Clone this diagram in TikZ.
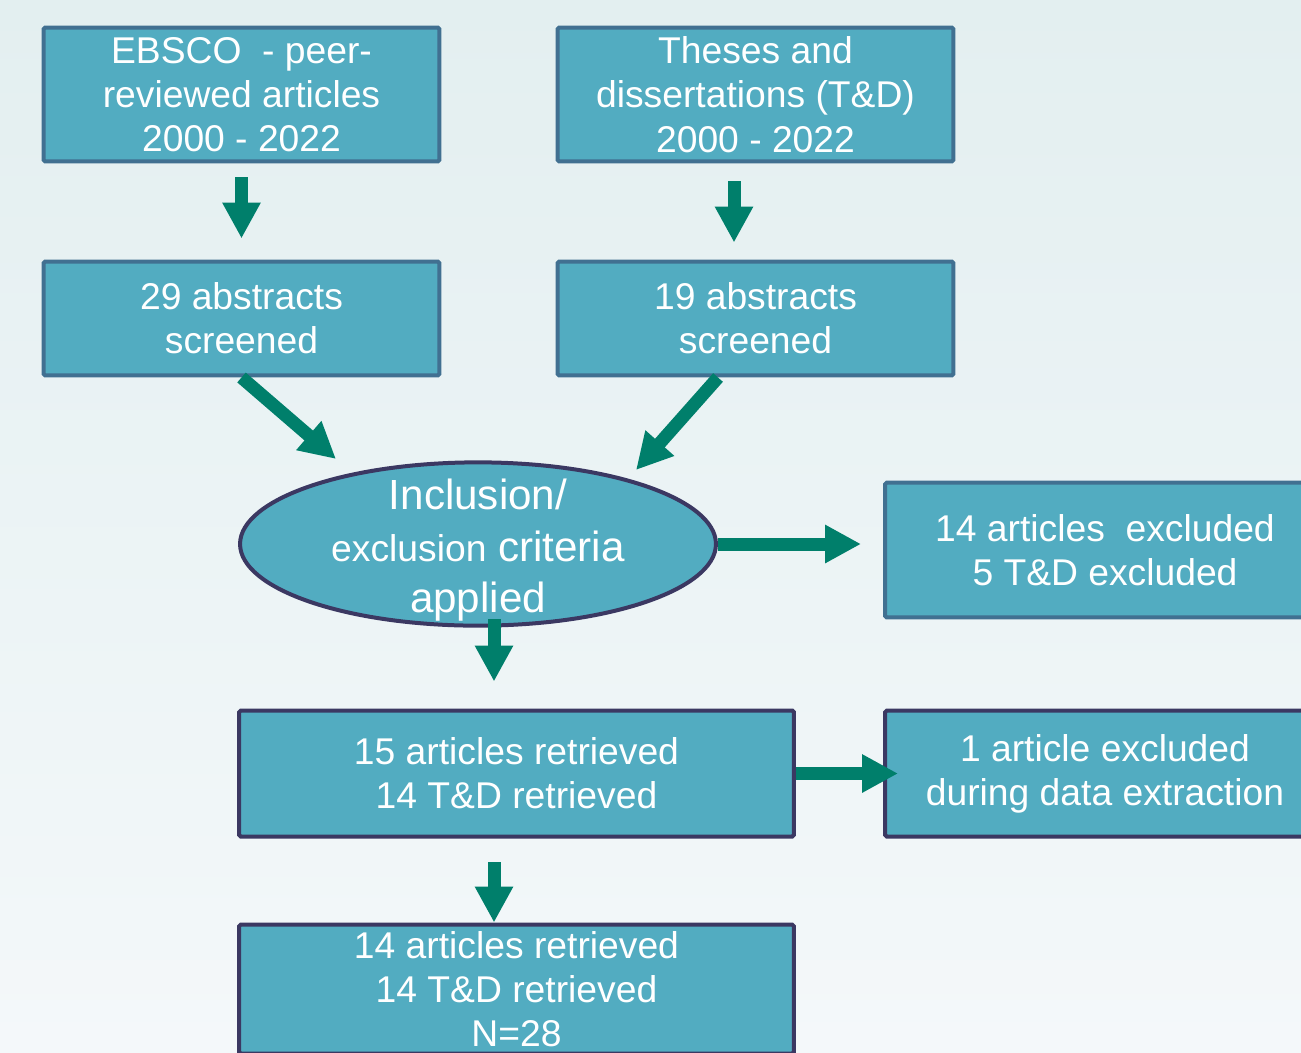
\documentclass[tikz,border=0pt]{standalone}
\usepackage{fontspec}
\setmainfont{Liberation Sans}
\usetikzlibrary{arrows.meta,shapes.geometric,positioning,calc}
\definecolor{boxfill}{RGB}{82,172,193}
\definecolor{steel}{RGB}{65,112,145}
\definecolor{navy}{RGB}{59,56,98}
\definecolor{flowgreen}{RGB}{0,127,107}
\definecolor{bgtop}{RGB}{227,239,240}
\definecolor{bgbot}{RGB}{244,248,250}

\begin{document}
\begin{tikzpicture}[x=0.02cm,y=-0.02cm]

\tikzset{srcbox/.style={draw=steel,line width=0.08cm,fill=boxfill,text=white,rounded corners=1pt,minimum width=7.92cm,minimum height=2.68cm,inner sep=0pt,align=center,font=\fontsize{21.2}{25.2}\selectfont},
resbox/.style={srcbox,draw=navy},
critnode/.style={shape=ellipse,draw=navy,line width=0.08cm,fill=boxfill,text=white,minimum width=9.52cm,minimum height=3.24cm,inner xsep=0pt,inner ysep=-0.4cm,align=center,font=\fontsize{24}{29.5}\selectfont},
flow/.style={draw=flowgreen,line width=0.26cm,-{Triangle[width=0.72cm,length=0.72cm]}}}

% Background
\useasboundingbox (0,0) rectangle (1301,1052);
\clip (0,0) rectangle (1301,1052);
\shade[top color=bgtop,bottom color=bgbot] (0,0) rectangle (1301,1052);

% Search nodes
\node [srcbox] (ebsco) at (241.5,94.5) {EBSCO\ \ - peer-\\reviewed articles\\2000 - 2022};
\node [srcbox] (theses) at (755.5,94.5) {Theses and\\dissertations (T\&D)\\2000 - 2022};

% Screening nodes
\node [srcbox,minimum height=2.28cm] (abs1) at (241.5,318.5) {29 abstracts\\screened};
\node [srcbox,minimum height=2.28cm] (abs2) at (755.5,318.5) {19 abstracts\\screened};

% Criteria
\node [critnode] (crit) at (478,544) {\rule{0pt}{24.5pt}Inclusion/\\{\fontsize{21.2}{24}\selectfont exclusion} criteria\\applied};
\node [srcbox,minimum width=8.8cm,minimum height=2.7cm] (excl1) at (1105,550) {14 articles\ \ excluded\\5 T\&D excluded};

% Result nodes
\node [resbox,minimum width=11.1cm,minimum height=2.52cm] (retr) at (516.5,773.5) {15 articles retrieved\\14 T\&D retrieved};
\node [resbox,minimum width=8.8cm,minimum height=2.52cm] (excl2) at (1105,773.5) {1 article excluded\\during data extraction};
\node [resbox,minimum width=11.1cm,minimum height=2.58cm] (final) at (516.5,989) {14 articles retrieved\\14 T\&D retrieved\\N=28};

% Free ends
\coordinate (tip3) at (336,459);
\coordinate (tip4) at (636,470);
\coordinate (tail6) at (494,619);

% Edges
\draw[flow,shorten <=0.28cm,shorten >=0.42cm] (ebsco) -- (abs1);
\draw[flow,shorten <=0.36cm,shorten >=0.34cm] ([xshift=-0.43cm]theses.south) -- ([xshift=-0.43cm]abs2.north);
\draw[flow] (abs1.south) -- (tip3);
\draw[flow] ([xshift=-0.75cm]abs2.south) -- (tip4);
\draw[flow,shorten >=0.44cm] (crit.east) -- (crit.east -| excl1.west);
\draw[flow,shorten >=0.54cm] (tail6) -- (tail6 |- retr.north);
\draw[flow,shorten >=-0.3cm] (retr.east) -- (excl2.west);
\draw[flow,shorten <=0.48cm,shorten >=0cm] ([xshift=-0.45cm]retr.south) -- ([xshift=-0.45cm]final.north);

\end{tikzpicture}
\end{document}
